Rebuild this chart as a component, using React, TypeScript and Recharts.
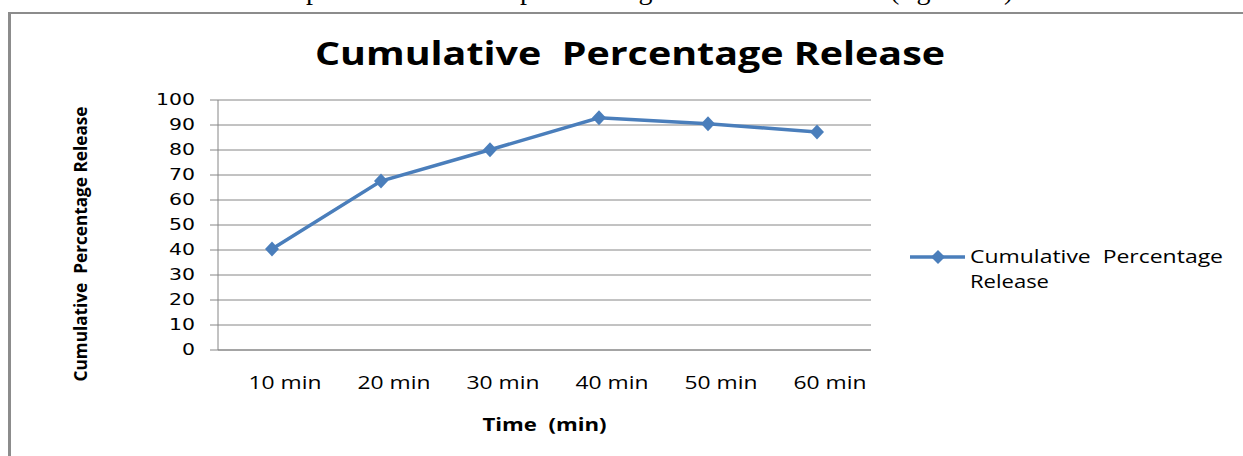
import React from "react";
import { CartesianGrid, Legend, Line, LineChart, XAxis, YAxis } from "recharts";

const times = ["10 min", "20 min", "30 min", "40 min", "50 min", "60 min"];
const releaseValues = [40.4, 67.6, 80.1, 92.9, 90.5, 87.2];
const yTicks = [0, 10, 20, 30, 40, 50, 60, 70, 80, 90, 100];

const SERIES_NAME = "Cumulative  Percentage Release";
const BLUE = "#4a7ebb";
const GRID = "#868686";
const SANS = "'Open Sans', sans-serif";

const data = times.map((time, i) => ({ time, release: releaseValues[i] }));

function YTick(props: any) {
  const label = String(props.payload.value);
  return (
    <text
      x={props.x}
      y={props.y}
      dy="0.36em"
      textAnchor="end"
      fontFamily="'DejaVu Sans', sans-serif"
      fontSize={15}
      fill="#000"
      textLength={label.length * 13}
      lengthAdjust="spacingAndGlyphs"
    >
      {label}
    </text>
  );
}

// labels sit a little right of the points in the original
function XTick(props: any) {
  return (
    <text
      x={props.x}
      y={props.y}
      dx={13}
      textAnchor="middle"
      fontFamily={SANS}
      fontSize={18}
      fill="#000"
      textLength={73}
      lengthAdjust="spacingAndGlyphs"
      style={{ whiteSpace: "pre" }}
    >
      {props.payload.value}
    </text>
  );
}

function Diamond(props: any) {
  const { cx, cy } = props;
  if (cx == null || cy == null) return null;
  return (
    <path
      d={`M${cx},${cy - 7.5} L${cx + 7},${cy} L${cx},${cy + 7.5} L${cx - 7},${cy} Z`}
      fill={BLUE}
    />
  );
}

function LegendBox(props: any) {
  const entry = props.payload?.[0];
  const name: string = entry?.value ?? SERIES_NAME;
  const cut = name.lastIndexOf(" ");
  const color = entry?.color ?? BLUE;
  return (
    <svg width={340} height={60} style={{ display: "block" }}>
      <line x1={5} y1={17} x2={60} y2={17} stroke={color} strokeWidth={3.5} />
      <path d="M33,10 L40,17 L33,24 L26,17 Z" fill={color} />
      <text
        x={65}
        y={23}
        fontFamily={SANS}
        fontSize={18}
        fill="#000"
        textLength={253}
        lengthAdjust="spacingAndGlyphs"
        style={{ whiteSpace: "pre" }}
      >
        {name.slice(0, cut)}
      </text>
      <text
        x={65}
        y={48}
        fontFamily={SANS}
        fontSize={18}
        fill="#000"
        textLength={79}
        lengthAdjust="spacingAndGlyphs"
      >
        {name.slice(cut + 1)}
      </text>
    </svg>
  );
}

export default function App() {
  return (
    <div
      style={{
        position: "absolute",
        left: 0,
        top: 0,
        width: 1243,
        height: 456,
        background: "#fff",
        overflow: "hidden",
      }}
    >
      <LineChart
        width={1243}
        height={456}
        data={data}
        margin={{ top: 100, right: 372, bottom: 76, left: 0 }}
      >
        <CartesianGrid vertical={false} stroke={GRID} strokeWidth={1} />
        <XAxis
          dataKey="time"
          height={30}
          padding={{ left: 54, right: 54 }}
          axisLine={{ stroke: GRID }}
          tickLine={false}
          tickSize={0}
          tickMargin={39}
          interval={0}
          tick={(p: any) => <XTick {...p} />}
          label={{
            content: (p: any) => (
              <text
                x={p.viewBox.x + p.viewBox.width / 2}
                y={p.viewBox.y + 81}
                textAnchor="middle"
                fontFamily={SANS}
                fontWeight={700}
                fontSize={18}
                fill="#000"
                textLength={124}
                lengthAdjust="spacingAndGlyphs"
                style={{ whiteSpace: "pre" }}
              >
                Time  (min)
              </text>
            ),
          }}
        />
        <YAxis
          width={218}
          domain={[0, 100]}
          ticks={yTicks}
          interval={0}
          axisLine={{ stroke: GRID }}
          tickLine={{ stroke: GRID }}
          tickSize={8}
          tickMargin={15}
          tick={(p: any) => <YTick {...p} />}
          label={{
            content: (p: any) => {
              const cx = 87;
              const cy = p.viewBox.y + p.viewBox.height / 2 + 19;
              return (
                <text
                  x={cx}
                  y={cy}
                  transform={`rotate(-90 ${cx} ${cy})`}
                  textAnchor="middle"
                  fontFamily={SANS}
                  fontWeight={700}
                  fontSize={18}
                  fill="#000"
                  textLength={275}
                  lengthAdjust="spacingAndGlyphs"
                  style={{ whiteSpace: "pre" }}
                >
                  Cumulative  Percentage Release
                </text>
              );
            },
          }}
        />
        <Legend
          layout="horizontal"
          align="center"
          verticalAlign="middle"
          wrapperStyle={{ left: 905, top: 240, width: 340 }}
          content={(p: any) => <LegendBox {...p} />}
        />
        <Line
          type="linear"
          dataKey="release"
          name={SERIES_NAME}
          stroke={BLUE}
          strokeWidth={3.5}
          dot={(p: any) => <Diamond key={p.index} {...p} />}
          activeDot={false}
          isAnimationActive={false}
        />
      </LineChart>

      <svg
        width={1243}
        height={456}
        style={{ position: "absolute", left: 0, top: 0, pointerEvents: "none" }}
      >
        <g fontFamily="'Liberation Serif', serif" fontSize={28} fill="#000">
          <text x={140} y={-1}>Cumulative</text>
          <text x={306} y={-1}>percent</text>
          <text x={410} y={-1}>release</text>
          <text x={520} y={-1}>plotted</text>
          <text x={626} y={-1}>against</text>
          <text x={760} y={-1}>time</text>
          <text x={890} y={-1}>(figure</text>
          <text x={990} y={-1}>2)</text>
        </g>
        <line x1={8} y1={13} x2={1243} y2={13} stroke="#8c8c8c" strokeWidth={2} />
        <line x1={9.5} y1={12} x2={9.5} y2={456} stroke="#8c8c8c" strokeWidth={3} />
        <text
          x={315}
          y={65}
          fontFamily={SANS}
          fontWeight={700}
          fontSize={32}
          fill="#000"
          textLength={630}
          lengthAdjust="spacingAndGlyphs"
          style={{ whiteSpace: "pre" }}
        >
          Cumulative  Percentage Release
        </text>
      </svg>
    </div>
  );
}
